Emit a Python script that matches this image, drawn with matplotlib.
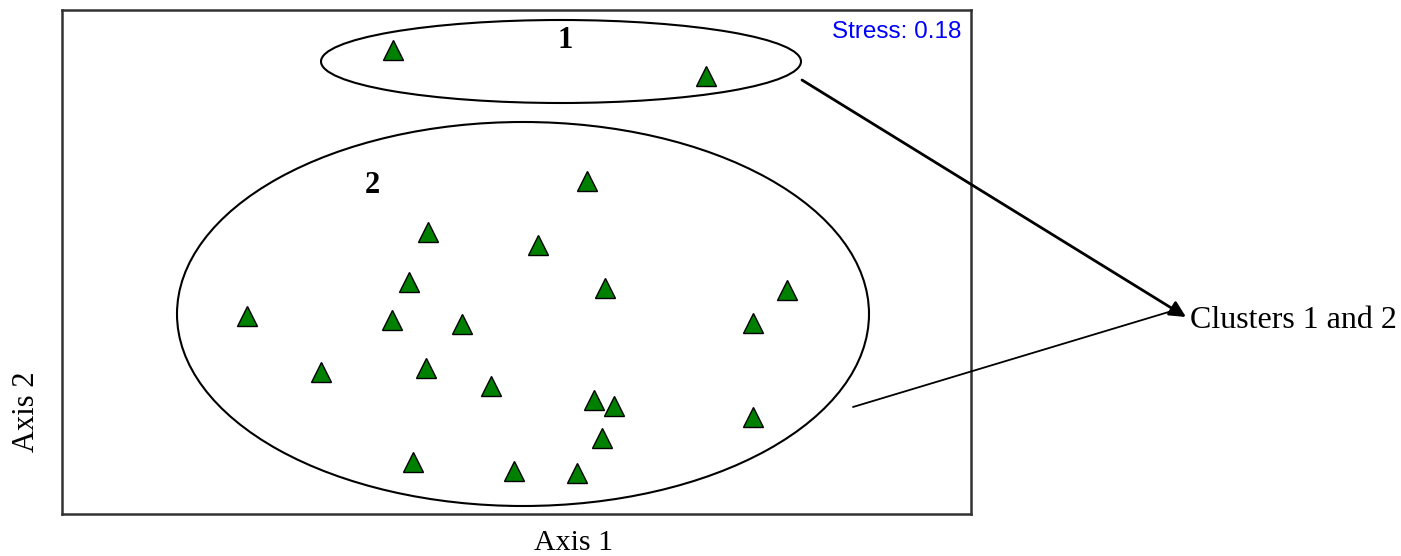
import matplotlib.pyplot as plt
from matplotlib.patches import Ellipse

# MDS ordination sites (screen-like units, y grows downwards)
cluster1_x = [393, 706]
cluster1_y = [50, 76]
cluster2_x = [587, 428, 538, 409, 605, 787, 247, 392, 462, 753,
              321, 426, 491, 594, 614, 753, 602, 413, 514, 577]
cluster2_y = [181, 232, 245, 282, 288, 290, 316, 320, 324, 323,
              372, 368, 386, 400, 406, 417, 438, 462, 471, 473]
stress = 0.18

W, H = 1401, 556
fig = plt.figure(figsize=(W / 100, H / 100), dpi=100)
ax = fig.add_axes([62 / W, (H - 514) / H, 909 / W, 504 / H])
ax.set_xlim(62, 971)
ax.set_ylim(514, 10)
ax.set_xticks([])
ax.set_yticks([])
for s in ax.spines.values():
    s.set_linewidth(1.8)
    s.set_color('#333333')

xs = cluster1_x + cluster2_x
ys = cluster1_y + cluster2_y
ax.plot(xs, ys, '^', color='#008000', markeredgecolor='black',
        markeredgewidth=1.0, markersize=14, linestyle='none')

# cluster outlines
ax.add_patch(Ellipse((561, 61.5), 480, 83, fill=False, lw=1.5, color='black'))
ax.add_patch(Ellipse((523, 314), 692, 384, fill=False, lw=1.5, color='black'))

serif = ['Liberation Serif', 'DejaVu Serif']
ax.text(565, 48, '1', fontsize=22, fontweight='bold', family=serif,
        ha='center', va='baseline')
ax.text(372, 193, '2', fontsize=22, fontweight='bold', family=serif,
        ha='center', va='baseline')
ax.text(961, 38, 'Stress: {:.2f}'.format(stress), fontsize=17.5, color='#0000ff',
        family=['Liberation Sans', 'DejaVu Sans'], ha='right', va='baseline')

# arrows to the side label
ax.annotate('', xy=(1186, 317), xytext=(802, 80), annotation_clip=False,
            arrowprops=dict(arrowstyle='-|>', color='black', lw=2,
                            mutation_scale=24, shrinkA=0, shrinkB=0))
ax.annotate('', xy=(1172, 311), xytext=(853, 407), annotation_clip=False,
            arrowprops=dict(arrowstyle='-', color='black', lw=1.3,
                            shrinkA=0, shrinkB=0))
ax.text(1190, 328, 'Clusters 1 and 2', fontsize=23, family=serif,
        ha='left', va='baseline', clip_on=False)

fig.text(573 / W, 1 - 550 / H, 'Axis 1', fontsize=21.5, family=serif,
         ha='center', va='baseline')
fig.text(27 / W, 1 - 412 / H, 'Axis 2', fontsize=22, family=serif,
         ha='center', va='center', rotation=90)

fig.savefig('out.png', dpi=100)
